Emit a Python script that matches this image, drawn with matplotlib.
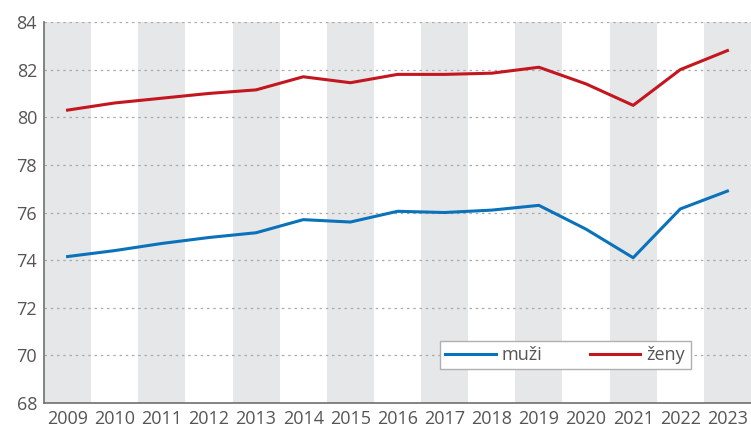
import matplotlib
matplotlib.use("Agg")
import matplotlib.pyplot as plt

years = list(range(2009, 2024))
muzi = [74.15, 74.4, 74.7, 74.95, 75.15, 75.7, 75.6, 76.05, 76.0, 76.1, 76.3, 75.3, 74.1, 76.15, 76.9]
zeny = [80.3, 80.6, 80.8, 81.0, 81.15, 81.7, 81.45, 81.8, 81.8, 81.85, 82.1, 81.4, 80.5, 82.0, 82.8]
yticks = [68, 70, 72, 74, 76, 78, 80, 82, 84]

plt.rcParams['font.family'] = ['Open Sans', 'DejaVu Sans']

fig = plt.figure(figsize=(7.51, 4.28), dpi=100)
ax = fig.add_axes([44/751, 25/428, 707/751, 381/428])

for i, y in enumerate(years):
    if i % 2 == 0:
        ax.axvspan(y - 0.5, y + 0.5, color='#e6e7e9', lw=0, zorder=0)

for t in yticks[1:]:
    ax.axhline(t, color='#aaaaaa', lw=0.9, ls=(0, (2, 3)), zorder=1)

ax.plot(years, muzi, color='#0a72ba', lw=2.2, label='muži', zorder=3)
ax.plot(years, zeny, color='#c3161f', lw=2.2, label='ženy', zorder=3)

ax.set_xlim(2008.5, 2023.5)
ax.set_ylim(68, 84)
ax.set_yticks(yticks)
ax.set_xticks(years)
ax.tick_params(axis='both', length=0, labelsize=13, labelcolor='#555555')
ax.tick_params(axis='x', pad=5)
ax.tick_params(axis='y', pad=5)

for s in ['top', 'right']:
    ax.spines[s].set_visible(False)
for s in ['left', 'bottom']:
    ax.spines[s].set_color('#707070')
    ax.spines[s].set_linewidth(1.2)

leg = ax.legend(loc='center', bbox_to_anchor=(0.737, 0.126), ncol=2, frameon=True,
                fancybox=False, edgecolor='#b0b0b0', framealpha=1, fontsize=13,
                handlelength=2.8, columnspacing=2.6, borderpad=0.3, handletextpad=0.35,
                borderaxespad=0)
leg.get_frame().set_linewidth(1.0)
for txt in leg.get_texts():
    txt.set_color('#555555')

fig.savefig('out.png', dpi=100)
